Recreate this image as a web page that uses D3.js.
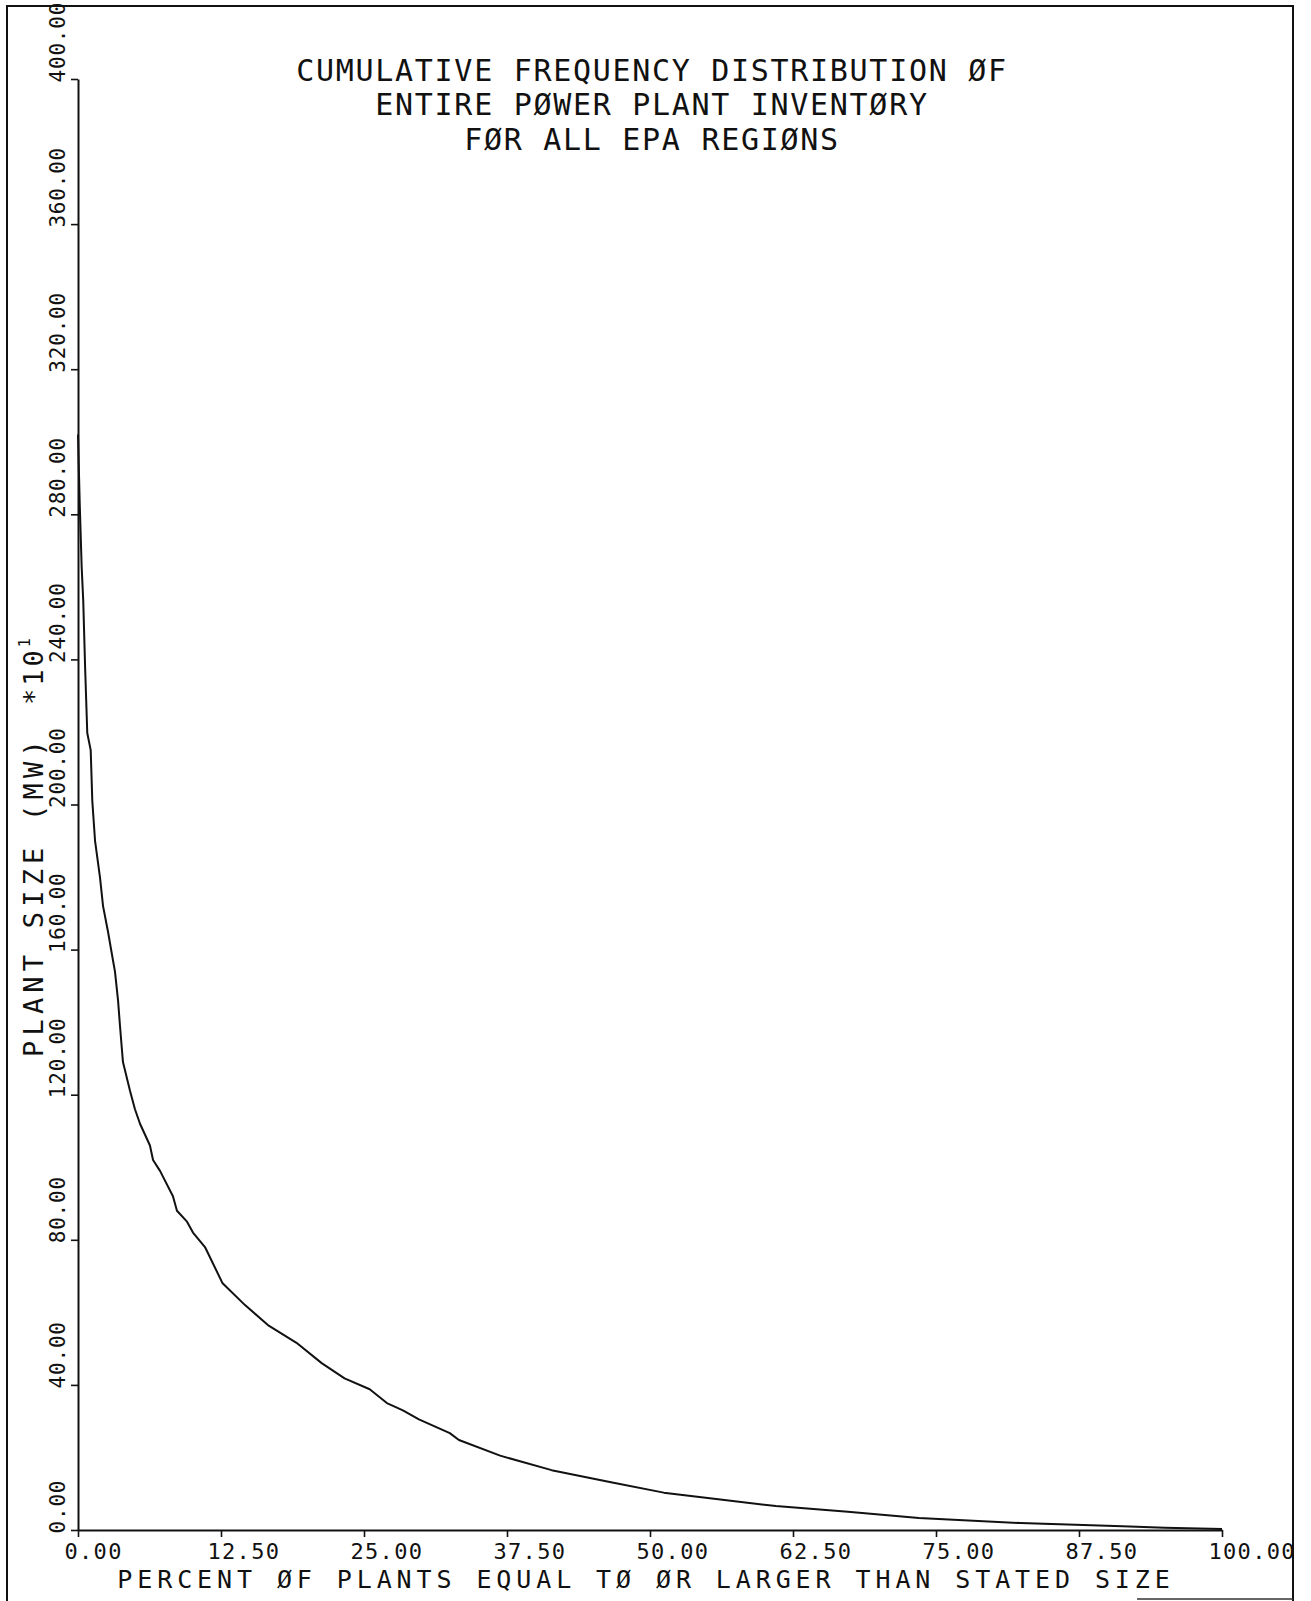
<!DOCTYPE html>
<html>
<head>
<meta charset="utf-8">
<script src="https://cdn.jsdelivr.net/npm/d3@7"></script>
<style>
  html, body { margin: 0; padding: 0; background: #fff; }
  svg { display: block; }
  text { font-family: "DejaVu Sans Mono", "Liberation Mono", monospace; fill: #111; }
</style>
</head>
<body>
<svg id="chart" width="1311" height="1601"></svg>
<script>
// ---- data (percent of plants >= size, plant size in MW x10) ----
const percentValues = [0, 0.15, 0.32, 0.46, 0.62, 0.81, 1.11, 1.25, 1.49, 1.92, 2.19, 2.62, 3.06, 3.23, 3.5, 3.67, 3.85, 3.93, 4.55, 4.98, 5.42, 6.29, 6.56, 7.17, 8.3, 8.65, 9.53, 10.05, 11.1, 12.64, 14.6, 16.6, 19.1, 21.3, 23.3, 25.5, 27.0, 28.4, 29.8, 32.5, 33.3, 36.9, 41.4, 46.7, 51.2, 55.6, 61.0, 67.3, 73.5, 82.4, 91.3, 95.0, 100];
const sizeValues    = [302, 283, 265.5, 256, 238, 219.7, 215, 201, 190, 180, 172, 165, 157, 154, 146, 139, 132, 129, 121, 116, 112, 106, 102, 99, 92, 88, 85, 82, 78, 68, 62, 56.5, 51.6, 46, 41.8, 38.8, 35, 33, 30.5, 26.7, 24.8, 20.5, 16.5, 13.1, 10.3, 8.6, 6.6, 5.0, 3.3, 1.9, 1.0, 0.6, 0.3];
const xTickValues = [0, 12.5, 25, 37.5, 50, 62.5, 75, 87.5, 100];
const yTickValues = [0, 40, 80, 120, 160, 200, 240, 280, 320, 360, 400];
const titleLines = ["CUMULATIVE FREQUENCY DISTRIBUTION ØF", "ENTIRE PØWER PLANT INVENTØRY", "FØR ALL EPA REGIØNS"];
const xTitle = "PERCENT ØF PLANTS EQUAL TØ ØR LARGER THAN STATED SIZE";
const yTitle = "PLANT SIZE (MW)";
const yMultiplier = "*10";
const yMultiplierExp = "1";

// ---- layout ----
const svg = d3.select("#chart");
const x = d3.scaleLinear().domain([0, 100]).range([78, 1222]);
const y = d3.scaleLinear().domain([0, 400]).range([1530, 79]);
const fmt = d3.format(".2f");

// frame
svg.append("path")
  .attr("d", "M7,1601 V6 H1293 V1601")
  .attr("fill", "none").attr("stroke", "#111").attr("stroke-width", 2);
svg.append("line")
  .attr("x1", 1137).attr("x2", 1293).attr("y1", 1599).attr("y2", 1599)
  .attr("stroke", "#333").attr("stroke-width", 1.5);

// x axis
const gx = svg.append("g").attr("transform", `translate(0,${y(0)})`)
  .call(d3.axisBottom(x).tickValues(xTickValues).tickSize(7).tickSizeOuter(0).tickFormat(fmt));
gx.select(".domain").attr("stroke", "#111").attr("stroke-width", 2);
gx.selectAll(".tick line").attr("stroke", "#111").attr("stroke-width", 1.6);
gx.selectAll(".tick text")
  .attr("x", -14).attr("y", 29).attr("dy", 0)
  .attr("text-anchor", "start")
  .style("font-family", '"DejaVu Sans Mono", monospace')
  .style("font-size", "22px").style("letter-spacing", "1.3px").attr("fill", "#111");

// y axis
const gy = svg.append("g").attr("transform", `translate(${x(0)},0)`)
  .call(d3.axisLeft(y).tickValues(yTickValues).tickSize(7).tickSizeOuter(0).tickFormat(fmt));
gy.select(".domain").attr("stroke", "#111").attr("stroke-width", 2);
gy.selectAll(".tick line").attr("stroke", "#111").attr("stroke-width", 1.6);
gy.selectAll(".tick text")
  .attr("x", 0).attr("y", 0).attr("dy", 0)
  .attr("transform", "translate(-13,3) rotate(-90)")
  .attr("text-anchor", "start")
  .style("font-family", '"DejaVu Sans Mono", monospace')
  .style("font-size", "21px").style("letter-spacing", "0.8px").attr("fill", "#111");

// curve
const data = percentValues.map((p, i) => ({ p, v: sizeValues[i] }));
svg.append("path")
  .datum(data)
  .attr("fill", "none").attr("stroke", "#111").attr("stroke-width", 2)
  .attr("stroke-linejoin", "round")
  .attr("d", d3.line().x(d => x(d.p)).y(d => y(d.v)));

// title
const titleBaselines = [81, 115, 150];
svg.append("g").selectAll("text").data(titleLines).join("text")
  .attr("x", 652).attr("y", (d, i) => titleBaselines[i])
  .attr("text-anchor", "middle")
  .style("font-size", "30px").style("letter-spacing", "1.7px")
  .text(d => d);

// x title
svg.append("text")
  .attr("x", 646).attr("y", 1588)
  .attr("text-anchor", "middle")
  .style("font-size", "25px").style("letter-spacing", "4.9px")
  .text(xTitle);

// y title
svg.append("text")
  .attr("transform", "translate(43,1057) rotate(-90)")
  .attr("text-anchor", "start")
  .style("font-size", "27px").style("letter-spacing", "5.2px")
  .text(yTitle);
const ym = svg.append("text")
  .attr("transform", "translate(43,705) rotate(-90)")
  .attr("text-anchor", "start")
  .style("font-size", "27px").style("letter-spacing", "3px")
  .text(yMultiplier);
ym.append("tspan").attr("dy", -13).style("font-size", "15px").text(yMultiplierExp);
</script>
</body>
</html>
